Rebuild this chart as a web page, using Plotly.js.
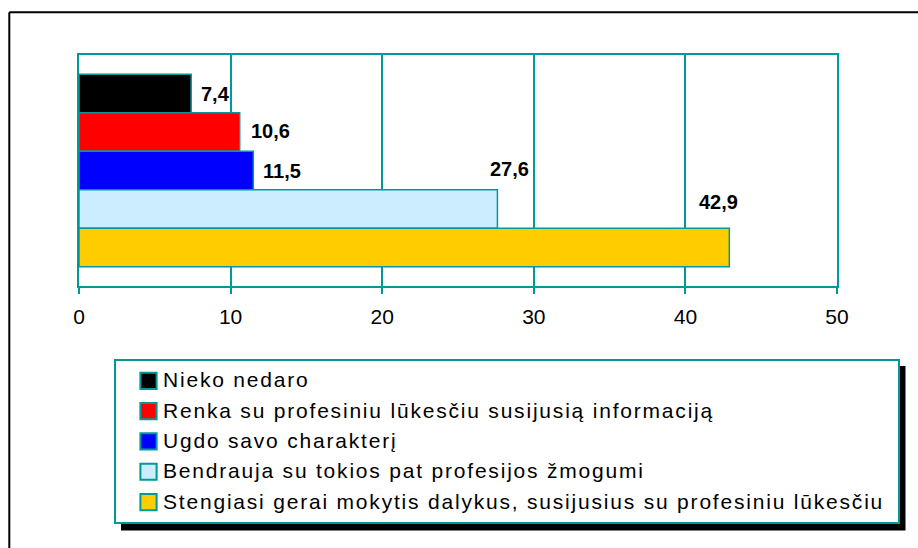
<!DOCTYPE html>
<html>
<head>
<meta charset="utf-8">
<script src="https://cdn.plot.ly/plotly-3.0.1.min.js"></script>
<style>
  html, body { margin: 0; padding: 0; background: #fff; }
  #chart { width: 918px; height: 548px; }
  .legendtext { letter-spacing: 1.8px; }
</style>
</head>
<body>
<div id="chart"></div>
<script>
// ---- data (top-level) ----
const categories = [
  "Nieko nedaro",
  "Renka su profesiniu lūkesčiu susijusią informaciją",
  "Ugdo savo charakterį",
  "Bendrauja su tokios pat profesijos žmogumi",
  "Stengiasi gerai mokytis dalykus, susijusius su profesiniu lūkesčiu"
];
const values = [7.4, 10.6, 11.5, 27.6, 42.9];
const valueLabels = ["7,4", "10,6", "11,5", "27,6", "42,9"];
const xTickValues = [0, 10, 20, 30, 40, 50];

// ---- styles ----
const barColors = ["#000000", "#FF0000", "#0000FF", "#CCECFF", "#FFCC00"];
const labelXShift = [8, 9, 8, -9, -32];
const labelYShift = [0, 1, 0, 40, 46];
const teal = "#009999";
const FONT = "Liberation Sans, Arial, sans-serif";

// plot-area pixel box
const L = 79, R = 837, T = 55, B = 286;
const px = x => (x - L) / (R - L);
const py = y => (B - y) / (B - T);

// bottom-to-top category order
const catOrder = categories.slice().reverse();

const traces = categories.map((c, i) => ({
  type: "bar",
  orientation: "h",
  name: c,
  x: [values[i]],
  y: [c],
  marker: { color: barColors[i], line: { color: teal, width: 1.5 } },
  hoverinfo: "x+name"
}));

const annotations = categories.map((c, i) => ({
  x: values[i], y: c, xref: "x", yref: "y",
  text: "<b>" + valueLabels[i] + "</b>",
  showarrow: false, xanchor: "left", yanchor: "middle",
  xshift: labelXShift[i], yshift: labelYShift[i],
  font: { family: FONT, size: 20, color: "#000" }
}));

const shapes = [
  // outer border (top, left)
  { type: "line", xref: "paper", yref: "paper", x0: px(9.3), x1: px(940), y0: py(12.3), y1: py(12.3), line: { color: "#000", width: 2 } },
  { type: "line", xref: "paper", yref: "paper", x0: px(9.3), x1: px(9.3), y0: py(12.3), y1: py(570), line: { color: "#000", width: 2 } },
  // legend shadow
  { type: "rect", xref: "paper", yref: "paper", layer: "below", x0: px(121), x1: px(905.5), y0: py(366), y1: py(530.5), fillcolor: "#000", line: { width: 0 } },
  // legend box
  { type: "rect", xref: "paper", yref: "paper", layer: "below", x0: px(115), x1: px(899), y0: py(360), y1: py(523), fillcolor: "#fff", line: { color: teal, width: 2 } }
];

const layout = {
  width: 918, height: 548,
  margin: { l: L, r: 918 - R, t: T, b: 548 - B, pad: 0 },
  paper_bgcolor: "#fff", plot_bgcolor: "#fff",
  barmode: "overlay", bargap: 0,
  showlegend: true,
  font: { family: FONT, color: "#000" },
  xaxis: {
    range: [0, 50], tickvals: xTickValues, ticktext: xTickValues.map(String),
    showgrid: true, gridcolor: teal, gridwidth: 2,
    zeroline: false,
    showline: true, linecolor: teal, linewidth: 2, mirror: true,
    ticks: "outside", ticklen: 6, tickwidth: 2, tickcolor: teal,
    ticklabelstandoff: 5,
    tickfont: { family: FONT, size: 21, color: "#000" },
    fixedrange: true
  },
  yaxis: {
    type: "category", categoryorder: "array", categoryarray: catOrder,
    range: [-1, 5],
    showticklabels: false, ticks: "", showgrid: false, zeroline: false,
    showline: true, linecolor: teal, linewidth: 2, mirror: true,
    fixedrange: true
  },
  legend: {
    x: px(123), y: py(359), xanchor: "left", yanchor: "top",
    orientation: "v", traceorder: "normal",
    bgcolor: "rgba(0,0,0,0)", borderwidth: 0,
    font: { family: FONT, size: 21, color: "#000" }
  },
  annotations: annotations,
  shapes: shapes
};

function fixSwatches() {
  const host = document.getElementById("chart").getBoundingClientRect();
  document.querySelectorAll(".legend .traces").forEach(tr => {
    const p = tr.querySelector(".legendpoints path");
    const t = tr.querySelector(".legendtext");
    if (!p || !t) return;
    p.removeAttribute("transform");
    const pr = p.getBoundingClientRect();
    const trr = t.getBoundingClientRect();
    const cx = (pr.left + pr.right) / 2 - host.left;
    const cy = (pr.top + pr.bottom) / 2;
    const ty = (trr.top + trr.bottom) / 2;
    const dx = 148.5 - cx;
    const dy = ty - cy + 1;
    p.setAttribute("transform", "translate(" + dx + "," + dy + ") scale(1.35)");
  });
}

Plotly.newPlot("chart", traces, layout, { displayModeBar: false, staticPlot: true }).then(fixSwatches);
</script>
</body>
</html>
